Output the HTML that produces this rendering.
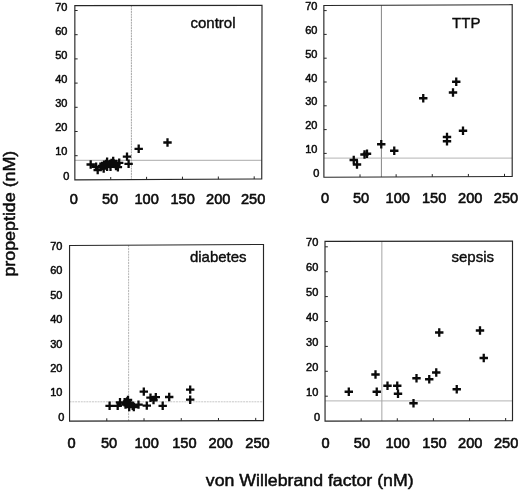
<!DOCTYPE html>
<html><head><meta charset="utf-8"><title>figure</title>
<style>html,body{margin:0;padding:0;background:#fff}svg{display:block}text{font-family:"Liberation Sans",Arial,sans-serif;fill:#0c0c0c;stroke:#0c0c0c;stroke-width:0.5px;stroke-linejoin:round}</style></head><body>
<svg width="520" height="491" viewBox="0 0 520 491">
<rect width="520" height="491" fill="#fff"/>
<g>
<line x1="131.4" y1="5.54" x2="131.4" y2="179.63" stroke="#969696" stroke-width="0.85" stroke-dasharray="2 0.7"/>
<line x1="74.85" y1="160.3" x2="261.75" y2="160.3" stroke="#9a9a9a" stroke-width="0.85"/>
<polygon points="74.85,5.6 262.0,5.4 261.75,179.0 74.85,179.9" fill="none" stroke="#262626" stroke-width="1.15" stroke-linejoin="miter"/>
<path d="M110.72 179.73v-2.7M146.59 179.55v-2.7M182.46 179.38v-2.7M218.33 179.21v-2.7M254.20 179.04v-2.7M74.85 155.70h2.8M74.85 131.50h2.8M74.85 107.30h2.8M74.85 83.10h2.8M74.85 58.90h2.8M74.85 34.70h2.8M74.85 10.50h2.8" stroke="#262626" stroke-width="1" fill="none"/>
<text x="69.30" y="179.55" font-size="11" text-anchor="end">0</text>
<text x="67.40" y="155.40" font-size="11" text-anchor="end">10</text>
<text x="67.40" y="131.25" font-size="11" text-anchor="end">20</text>
<text x="67.40" y="107.10" font-size="11" text-anchor="end">30</text>
<text x="67.40" y="82.95" font-size="11" text-anchor="end">40</text>
<text x="67.40" y="58.80" font-size="11" text-anchor="end">50</text>
<text x="67.40" y="34.65" font-size="11" text-anchor="end">60</text>
<text x="67.40" y="10.50" font-size="11" text-anchor="end">70</text>
<text x="73.9" y="204.3" font-size="14.6" text-anchor="middle" style="stroke-width:0.6px">0</text>
<text x="110.1" y="204.3" font-size="14.6" text-anchor="middle" style="stroke-width:0.6px">50</text>
<text x="146.6" y="204.3" font-size="14.6" text-anchor="middle" style="stroke-width:0.6px">100</text>
<text x="182.6" y="204.3" font-size="14.6" text-anchor="middle" style="stroke-width:0.6px">150</text>
<text x="218.3" y="204.3" font-size="14.6" text-anchor="middle" style="stroke-width:0.6px">200</text>
<text x="253.1" y="204.3" font-size="14.6" text-anchor="middle" style="stroke-width:0.6px">250</text>
<text x="190.5" y="28.2" font-size="15" style="stroke-width:0.4px">control</text>
<path d="M163.30 142.50h8.4M167.50 138.30v8.4M134.50 148.80h8.4M138.70 144.60v8.4M122.80 156.60h8.4M127.00 152.40v8.4M124.40 163.80h8.4M128.60 159.60v8.4M86.50 164.50h8.4M90.70 160.30v8.4M91.90 166.80h8.4M96.10 162.60v8.4M93.50 170.00h8.4M97.70 165.80v8.4M96.20 166.80h8.4M100.40 162.60v8.4M99.50 168.60h8.4M103.70 164.40v8.4M100.20 164.80h8.4M104.40 160.60v8.4M102.90 166.80h8.4M107.10 162.60v8.4M102.90 161.60h8.4M107.10 157.40v8.4M105.60 164.10h8.4M109.80 159.90v8.4M106.30 166.80h8.4M110.50 162.60v8.4M109.00 161.00h8.4M113.20 156.80v8.4M109.60 163.50h8.4M113.80 159.30v8.4M112.30 164.30h8.4M116.50 160.10v8.4M113.70 167.20h8.4M117.90 163.00v8.4M115.00 162.80h8.4M119.20 158.60v8.4M97.80 166.00h8.4M102.00 161.80v8.4M101.80 164.00h8.4M106.00 159.80v8.4M107.30 163.00h8.4M111.50 158.80v8.4M111.80 166.00h8.4M116.00 161.80v8.4" stroke="#0a0a0a" stroke-width="2.3" fill="none"/>
</g>
<g>
<line x1="381.4" y1="5.26" x2="381.4" y2="176.99" stroke="#6e6e6e" stroke-width="0.85"/>
<line x1="323.9" y1="158.1" x2="512.2" y2="158.1" stroke="#a6a6a6" stroke-width="0.85"/>
<polygon points="323.85,5.5 512.2,4.7 512.2,176.5 323.9,177.2" fill="none" stroke="#262626" stroke-width="1.15" stroke-linejoin="miter"/>
<path d="M360.02 177.07v-2.7M396.14 176.93v-2.7M432.26 176.80v-2.7M468.38 176.66v-2.7M504.50 176.53v-2.7M323.9 153.40h2.8M323.9 129.60h2.8M323.9 105.80h2.8M323.9 82.00h2.8M323.9 58.20h2.8M323.9 34.40h2.8M323.9 10.60h2.8" stroke="#262626" stroke-width="1" fill="none"/>
<text x="319.30" y="176.75" font-size="11" text-anchor="end">0</text>
<text x="317.40" y="152.95" font-size="11" text-anchor="end">10</text>
<text x="317.40" y="129.15" font-size="11" text-anchor="end">20</text>
<text x="317.40" y="105.35" font-size="11" text-anchor="end">30</text>
<text x="317.40" y="81.55" font-size="11" text-anchor="end">40</text>
<text x="317.40" y="57.75" font-size="11" text-anchor="end">50</text>
<text x="317.40" y="33.95" font-size="11" text-anchor="end">60</text>
<text x="317.40" y="10.15" font-size="11" text-anchor="end">70</text>
<text x="325" y="203.2" font-size="14.6" text-anchor="middle" style="stroke-width:0.6px">0</text>
<text x="361.1" y="203.2" font-size="14.6" text-anchor="middle" style="stroke-width:0.6px">50</text>
<text x="397.8" y="203.2" font-size="14.6" text-anchor="middle" style="stroke-width:0.6px">100</text>
<text x="434.1" y="203.2" font-size="14.6" text-anchor="middle" style="stroke-width:0.6px">150</text>
<text x="470.3" y="203.2" font-size="14.6" text-anchor="middle" style="stroke-width:0.6px">200</text>
<text x="506.0" y="203.2" font-size="14.6" text-anchor="middle" style="stroke-width:0.6px">250</text>
<text x="452.1" y="28" font-size="15" style="stroke-width:0.4px">TTP</text>
<path d="M349.55 160.00h8.4M353.75 155.80v8.4M352.80 164.50h8.4M357.00 160.30v8.4M360.30 154.50h8.4M364.50 150.30v8.4M362.80 153.75h8.4M367.00 149.55v8.4M377.05 144.25h8.4M381.25 140.05v8.4M390.05 150.75h8.4M394.25 146.55v8.4M452.05 81.75h8.4M456.25 77.55v8.4M448.80 92.50h8.4M453.00 88.30v8.4M419.05 98.25h8.4M423.25 94.05v8.4M442.80 137.00h8.4M447.00 132.80v8.4M442.80 141.25h8.4M447.00 137.05v8.4M458.80 130.75h8.4M463.00 126.55v8.4" stroke="#0a0a0a" stroke-width="2.3" fill="none"/>
</g>
<g>
<line x1="128.6" y1="245.20" x2="128.6" y2="420.94" stroke="#a8a8a8" stroke-width="0.85" stroke-dasharray="2 0.8"/>
<line x1="69.56" y1="401.8" x2="263.5" y2="401.8" stroke="#bdbdbd" stroke-width="0.85" stroke-dasharray="2 0.8"/>
<polygon points="69.56,245.5 263.5,244.5 263.5,420.56 69.56,421.1" fill="none" stroke="#262626" stroke-width="1.15" stroke-linejoin="miter"/>
<path d="M106.79 421.00v-2.7M144.02 420.89v-2.7M181.25 420.79v-2.7M218.48 420.69v-2.7M255.71 420.58v-2.7" stroke="#262626" stroke-width="1" fill="none"/>
<text x="64.30" y="420.75" font-size="11" text-anchor="end">0</text>
<text x="62.40" y="396.35" font-size="11" text-anchor="end">10</text>
<text x="62.40" y="371.95" font-size="11" text-anchor="end">20</text>
<text x="62.40" y="347.55" font-size="11" text-anchor="end">30</text>
<text x="62.40" y="323.15" font-size="11" text-anchor="end">40</text>
<text x="62.40" y="298.75" font-size="11" text-anchor="end">50</text>
<text x="62.40" y="274.35" font-size="11" text-anchor="end">60</text>
<text x="62.40" y="249.95" font-size="11" text-anchor="end">70</text>
<text x="71.6" y="448.3" font-size="14.6" text-anchor="middle" style="stroke-width:0.6px">0</text>
<text x="109.1" y="448.3" font-size="14.6" text-anchor="middle" style="stroke-width:0.6px">50</text>
<text x="146.6" y="448.3" font-size="14.6" text-anchor="middle" style="stroke-width:0.6px">100</text>
<text x="184.4" y="448.3" font-size="14.6" text-anchor="middle" style="stroke-width:0.6px">150</text>
<text x="220.8" y="448.3" font-size="14.6" text-anchor="middle" style="stroke-width:0.6px">200</text>
<text x="257.5" y="448.3" font-size="14.6" text-anchor="middle" style="stroke-width:0.6px">250</text>
<text x="189.9" y="262.4" font-size="15" style="stroke-width:0.4px">diabetes</text>
<path d="M105.40 405.80h8.4M109.60 401.60v8.4M113.50 405.80h8.4M117.70 401.60v8.4M115.80 402.30h8.4M120.00 398.10v8.4M120.40 402.30h8.4M124.60 398.10v8.4M123.80 400.00h8.4M128.00 395.80v8.4M125.00 403.50h8.4M129.20 399.30v8.4M128.50 405.80h8.4M132.70 401.60v8.4M134.30 404.60h8.4M138.50 400.40v8.4M139.60 391.60h8.4M143.80 387.40v8.4M142.60 405.60h8.4M146.80 401.40v8.4M122.80 401.50h8.4M127.00 397.30v8.4M125.80 403.00h8.4M130.00 398.80v8.4M125.00 407.00h8.4M129.20 402.80v8.4M121.30 404.50h8.4M125.50 400.30v8.4M129.60 407.00h8.4M133.80 402.80v8.4M146.30 397.70h8.4M150.50 393.50v8.4M151.60 397.20h8.4M155.80 393.00v8.4M149.30 400.00h8.4M153.50 395.80v8.4M158.50 405.80h8.4M162.70 401.60v8.4M165.00 397.00h8.4M169.20 392.80v8.4M186.00 389.60h8.4M190.20 385.40v8.4M186.00 399.70h8.4M190.20 395.50v8.4" stroke="#0a0a0a" stroke-width="2.3" fill="none"/>
</g>
<g>
<line x1="381.85" y1="241.26" x2="381.85" y2="420.98" stroke="#949494" stroke-width="0.85"/>
<line x1="325.05" y1="400.9" x2="512.5" y2="400.9" stroke="#a6a6a6" stroke-width="0.85"/>
<polygon points="325.0,241.35 512.5,241.05 512.5,420.7 325.05,421.1" fill="none" stroke="#262626" stroke-width="1.15" stroke-linejoin="miter"/>
<path d="M361.17 421.02v-2.7M397.29 420.95v-2.7M433.41 420.87v-2.7M469.53 420.79v-2.7M505.65 420.71v-2.7M325.05 396.20h2.8M325.05 371.30h2.8M325.05 346.40h2.8M325.05 321.50h2.8M325.05 296.60h2.8M325.05 271.70h2.8M325.05 246.80h2.8" stroke="#262626" stroke-width="1" fill="none"/>
<text x="320.20" y="421.05" font-size="11" text-anchor="end">0</text>
<text x="318.30" y="396.10" font-size="11" text-anchor="end">10</text>
<text x="318.30" y="371.15" font-size="11" text-anchor="end">20</text>
<text x="318.30" y="346.20" font-size="11" text-anchor="end">30</text>
<text x="318.30" y="321.25" font-size="11" text-anchor="end">40</text>
<text x="318.30" y="296.30" font-size="11" text-anchor="end">50</text>
<text x="318.30" y="271.35" font-size="11" text-anchor="end">60</text>
<text x="318.30" y="246.40" font-size="11" text-anchor="end">70</text>
<text x="325.6" y="447.9" font-size="14.6" text-anchor="middle" style="stroke-width:0.6px">0</text>
<text x="361.9" y="447.9" font-size="14.6" text-anchor="middle" style="stroke-width:0.6px">50</text>
<text x="397.6" y="447.9" font-size="14.6" text-anchor="middle" style="stroke-width:0.6px">100</text>
<text x="434.5" y="447.9" font-size="14.6" text-anchor="middle" style="stroke-width:0.6px">150</text>
<text x="470.3" y="447.9" font-size="14.6" text-anchor="middle" style="stroke-width:0.6px">200</text>
<text x="506.1" y="447.9" font-size="14.6" text-anchor="middle" style="stroke-width:0.6px">250</text>
<text x="451.5" y="261.5" font-size="15" style="stroke-width:0.4px">sepsis</text>
<path d="M344.60 391.75h8.4M348.80 387.55v8.4M371.30 374.50h8.4M375.50 370.30v8.4M372.55 391.75h8.4M376.75 387.55v8.4M383.30 385.75h8.4M387.50 381.55v8.4M393.05 385.75h8.4M397.25 381.55v8.4M393.80 393.75h8.4M398.00 389.55v8.4M409.30 403.25h8.4M413.50 399.05v8.4M412.30 378.25h8.4M416.50 374.05v8.4M425.05 379.25h8.4M429.25 375.05v8.4M432.05 372.50h8.4M436.25 368.30v8.4M452.55 389.25h8.4M456.75 385.05v8.4M479.55 358.00h8.4M483.75 353.80v8.4M435.05 332.50h8.4M439.25 328.30v8.4M475.80 330.50h8.4M480.00 326.30v8.4" stroke="#0a0a0a" stroke-width="2.3" fill="none"/>
</g>
<text transform="translate(14.9 276.6) rotate(-90) scale(1.095 1)" font-size="16.3">propeptide (nM)</text>
<text transform="translate(205.8 485.8) scale(1.037 1)" font-size="17.1">von Willebrand factor (nM)</text>
</svg></body></html>
